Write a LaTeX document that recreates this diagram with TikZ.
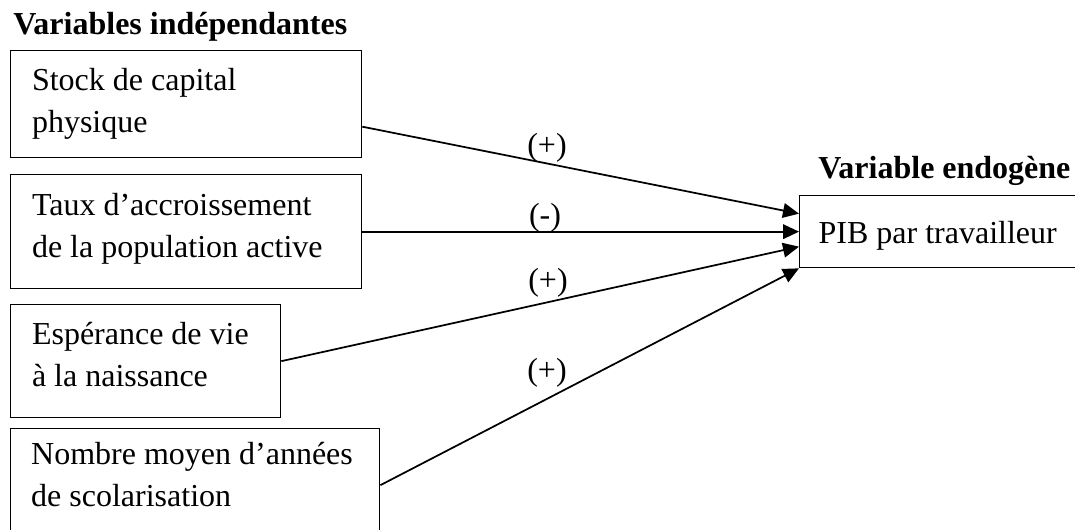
\documentclass[tikz,border=0pt]{standalone}
\usepackage{fontspec}
\setmainfont{Liberation Serif}
\usetikzlibrary{arrows.meta}
\tikzset{
  varbox/.style={draw, line width=1pt, anchor=north west, align=left,
    inner xsep=16pt, inner ysep=0pt, font=\fontsize{24}{31.5}\selectfont,
    execute at begin node={\spaceskip=0pt\xspaceskip=0pt\relax}},
  titre/.style={anchor=base west, inner sep=0pt, font=\fontsize{24}{29}\selectfont\bfseries},
  signe/.style={inner sep=0pt, font=\fontsize{24}{29}\selectfont},
  fleche/.style={line width=1.3pt, -{Triangle[length=12pt,width=11pt]}}
}
\begin{document}
\begin{tikzpicture}[x=0.75pt,y=-0.75pt]
\useasboundingbox (0,0) rectangle (1075,530);
\clip (0,0) rectangle (1075,530);
\node[titre] (indep) at (13,35) {Variables indépendantes};
\node[varbox, text width=231.25pt, minimum height=80.25pt] (stock) at (10,50) {Stock de capital\\physique};
\node[varbox, text width=231.25pt, minimum height=85.5pt, text depth=40.5pt] (taux) at (10,174) {Taux d’accroissement\\de la population active};
\node[varbox, text width=170.5pt, minimum height=84.75pt, text depth=42pt] (vie) at (10,304) {Espérance de vie\\à la naissance};
\node[varbox, text width=246pt, inner xsep=15.4pt, minimum height=84.75pt, text depth=48pt] (scol) at (10,428) {Nombre moyen d’années\\de scolarisation};
\node[titre] (endo) at (818,179) {Variable endogène};
\node[varbox, inner xsep=14.25pt, text width=197.25pt, minimum height=54pt, text height=23pt] (pib) at (799,195) {PIB par travailleur};
\draw [fleche] ([yshift=-16.9pt]stock.east) -- ([yshift=13.5pt]pib.west);
\draw [fleche] (taux.east) -- (pib.west);
\draw [fleche] (vie.east) -- ([yshift=-11.25pt]pib.west);
\draw [fleche] (scol.east) -- (pib.south west);
\node[signe] (s1) at (547,148) {(+)};
\node[signe] (s2) at (545,218) {(-)};
\node[signe] (s3) at (548,283) {(+)};
\node[signe] (s4) at (547,373) {(+)};
\end{tikzpicture}
\end{document}
